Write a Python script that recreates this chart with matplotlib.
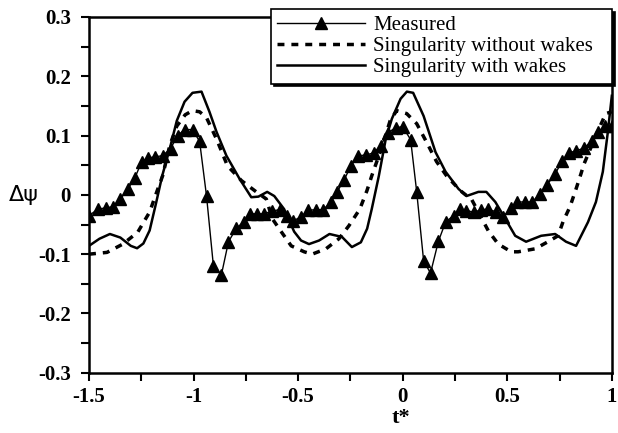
import matplotlib
matplotlib.use('Agg')
from matplotlib import pyplot as plt

# measured points (triangles)
t_meas = [-1.5, -1.457, -1.42, -1.386, -1.35, -1.314, -1.28, -1.248, -1.218, -1.186,
          -1.148, -1.11, -1.076, -1.043, -1.005, -0.971, -0.938, -0.905, -0.867, -0.833,
          -0.795, -0.757, -0.729, -0.695, -0.662, -0.624, -0.586, -0.552, -0.524, -0.486,
          -0.452, -0.414, -0.38, -0.343, -0.314, -0.28, -0.248, -0.214, -0.176, -0.138,
          -0.105, -0.071, -0.033, 0.0, 0.038, 0.067, 0.1, 0.133, 0.171, 0.205,
          0.243, 0.276, 0.305, 0.343, 0.376, 0.41, 0.448, 0.481, 0.519, 0.548,
          0.586, 0.62, 0.657, 0.69, 0.729, 0.762, 0.795, 0.829, 0.867, 0.905,
          0.933, 0.967, 1.0]
y_meas = [-0.035, -0.024, -0.022, -0.02, -0.007, 0.01, 0.029, 0.056, 0.062, 0.064,
          0.066, 0.078, 0.1, 0.11, 0.11, 0.09, -0.002, -0.12, -0.135, -0.079,
          -0.056, -0.045, -0.032, -0.032, -0.032, -0.027, -0.025, -0.035, -0.044, -0.037,
          -0.026, -0.025, -0.025, -0.012, 0.005, 0.025, 0.049, 0.066, 0.067, 0.071,
          0.083, 0.105, 0.113, 0.115, 0.093, 0.005, -0.111, -0.132, -0.078, -0.046,
          -0.035, -0.024, -0.027, -0.029, -0.025, -0.024, -0.029, -0.037, -0.022, -0.012,
          -0.012, -0.012, 0.002, 0.017, 0.035, 0.057, 0.071, 0.074, 0.079, 0.091,
          0.106, 0.116, 0.116]

# singularity without wakes (dashed)
t_nowake = [-1.5, -1.414, -1.338, -1.267, -1.21, -1.176, -1.148, -1.114, -1.08, -1.04,
            -1.005, -0.971, -0.938, -0.89, -0.838, -0.771, -0.7, -0.652, -0.624, -0.581,
            -0.533, -0.471, -0.433, -0.367, -0.305, -0.257, -0.205, -0.171, -0.148, -0.1,
            -0.06, -0.029, 0.019, 0.067, 0.114, 0.162, 0.21, 0.276, 0.33, 0.371,
            0.41, 0.457, 0.519, 0.552, 0.633, 0.695, 0.743, 0.767, 0.8, 0.829,
            0.852, 0.867, 0.924, 0.971, 1.0]
y_nowake = [-0.1, -0.097, -0.083, -0.063, -0.029, 0.005, 0.032, 0.083, 0.116, 0.135,
            0.142, 0.14, 0.13, 0.094, 0.049, 0.024, 0.005, -0.007, -0.04, -0.062,
            -0.086, -0.096, -0.1, -0.091, -0.074, -0.052, -0.024, 0.007, 0.032, 0.08,
            0.125, 0.142, 0.137, 0.12, 0.089, 0.056, 0.032, 0.007, -0.008, -0.035,
            -0.061, -0.083, -0.096, -0.096, -0.091, -0.079, -0.069, -0.045, -0.02, 0.01,
            0.035, 0.052, 0.1, 0.137, 0.14]

# singularity with wakes (solid)
t_wake = [-1.5, -1.45, -1.4, -1.35, -1.3, -1.27, -1.24, -1.21, -1.18, -1.15,
          -1.11, -1.08, -1.043, -1.005, -0.962, -0.924, -0.89, -0.843, -0.78, -0.724,
          -0.69, -0.648, -0.614, -0.567, -0.519, -0.486, -0.448, -0.4, -0.35, -0.29,
          -0.243, -0.2, -0.17, -0.148, -0.114, -0.081, -0.052, -0.01, 0.02, 0.05,
          0.1, 0.157, 0.205, 0.267, 0.305, 0.362, 0.4, 0.443, 0.49, 0.538,
          0.59, 0.662, 0.729, 0.781, 0.829, 0.886, 0.924, 0.957, 0.981, 1.0]
y_wake = [-0.086, -0.074, -0.066, -0.072, -0.086, -0.09, -0.082, -0.06, -0.015, 0.032,
          0.083, 0.125, 0.157, 0.172, 0.174, 0.14, 0.106, 0.066, 0.027, -0.004,
          -0.003, 0.005, -0.002, -0.024, -0.062, -0.077, -0.083, -0.077, -0.066, -0.071,
          -0.088, -0.08, -0.057, -0.024, 0.032, 0.094, 0.128, 0.162, 0.174, 0.172,
          0.133, 0.072, 0.039, 0.01, -0.002, 0.005, 0.005, -0.012, -0.04, -0.069,
          -0.079, -0.069, -0.066, -0.079, -0.086, -0.046, -0.012, 0.039, 0.106, 0.167]

x_ticks = [-1.5, -1, -0.5, 0, 0.5, 1]
x_labels = ['-1.5', '-1', '-0.5', '0', '0.5', '1']
y_ticks = [-0.3, -0.2, -0.1, 0, 0.1, 0.2, 0.3]
y_labels = ['-0.3', '-0.2', '-0.1', '0', '0.1', '0.2', '0.3']

plt.rcParams['font.family'] = ['Liberation Serif', 'DejaVu Serif']

fig = plt.figure(figsize=(6.18, 4.33), dpi=100)
ax = fig.add_axes([0.144, 0.139, 0.846, 0.822])

ax.plot(t_meas, y_meas, color='black', lw=1.0, marker='^', ms=8, label='Measured')
ax.plot(t_nowake, y_nowake, color='black', lw=2.5, dashes=(2.0, 2.0),
        label='Singularity without wakes')
ax.plot(t_wake, y_wake, color='black', lw=1.8, label='Singularity with wakes')

ax.set_xlim(-1.5, 1)
ax.set_ylim(-0.3, 0.3)
ax.set_xticks(x_ticks)
ax.set_xticklabels(x_labels, fontsize=15, fontweight='bold')
ax.set_xticks([-1.25, -0.75, -0.25, 0.25, 0.75], minor=True)
ax.set_yticks(y_ticks)
ax.set_yticklabels(y_labels, fontsize=15, fontweight='bold')
ax.set_yticks([-0.25, -0.15, -0.05, 0.05, 0.15, 0.25], minor=True)
ax.tick_params(which='both', direction='out', width=1.5, color='black')
ax.tick_params(which='major', length=6)
ax.tick_params(axis='x', which='major', pad=4)
ax.tick_params(axis='y', which='major', pad=7)
ax.tick_params(which='minor', length=6)
for s in ax.spines.values():
    s.set_linewidth(1.8)

ax.set_xlabel('t*', fontsize=16, fontweight='bold', va='center')
ax.xaxis.set_label_coords(0.597, -0.128)
ax.set_ylabel('\u0394\u03c8', fontsize=16, rotation=0, family='DejaVu Sans',
              va='center')
ax.yaxis.set_label_coords(-0.124, 0.5)

leg = ax.legend(loc='upper left', bbox_to_anchor=(0.348, 0.8, 0.652, 0.222),
                mode='expand', fontsize=15, frameon=True, fancybox=False,
                handlelength=4.2, handletextpad=0.4, borderpad=0.3,
                labelspacing=0.08, borderaxespad=0,
                shadow={'color': 'black', 'alpha': 1.0})
leg.get_frame().set_edgecolor('black')
leg.get_frame().set_linewidth(1.2)

fig.savefig('out.png', dpi=100)
